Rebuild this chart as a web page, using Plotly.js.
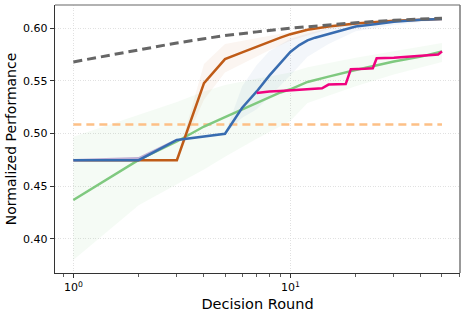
<!DOCTYPE html>
<html><head><meta charset="utf-8">
<script src="https://cdn.plot.ly/plotly-3.0.1.min.js"></script>
<style>html,body{margin:0;padding:0;background:#fff}#chart{width:466px;height:314px}</style>
</head><body><div id="chart"></div>
<script>
// Oracle (gray dashed)
const oracleX = [1, 2, 3, 4, 5, 7, 10, 15, 20, 30, 50];
const oracleY = [0.568, 0.5795, 0.586, 0.590, 0.593, 0.5965, 0.600, 0.603, 0.6052, 0.6075, 0.6095];
// Constant baseline (peach dashed)
const baseX = [1, 50];
const baseY = [0.5085, 0.5085];
// Green series
const greenX = [1, 2, 3, 4, 5, 6, 7, 8, 9, 10, 12, 15, 20, 30, 40, 50];
const greenY = [0.437, 0.475, 0.4925, 0.5067, 0.5156, 0.523, 0.529, 0.535, 0.539, 0.542, 0.549, 0.554, 0.5604, 0.5683, 0.573, 0.5778];
const greenBandX = [1, 2, 3, 4, 5, 7, 10, 12, 20, 30, 50];
const greenUpper = [0.497, 0.518, 0.530, 0.540, 0.546, 0.552, 0.558, 0.563, 0.572, 0.578, 0.586];
const greenLower = [0.380, 0.432, 0.452, 0.466, 0.478, 0.495, 0.512, 0.529, 0.545, 0.556, 0.568];
// Orange series
const orangeX = [1, 2, 3, 4, 5, 6, 7, 8, 9, 10, 12, 15, 20, 30, 40, 50];
const orangeY = [0.4748, 0.4748, 0.4748, 0.5478, 0.5706, 0.577, 0.5826, 0.5873, 0.591, 0.5943, 0.5985, 0.6015, 0.6045, 0.607, 0.608, 0.6088];
const orangeBandX = [3, 4, 5, 6, 8, 10, 15, 20, 30, 50];
const orangeUpper = [0.4748, 0.566, 0.585, 0.588, 0.593, 0.597, 0.603, 0.606, 0.608, 0.609];
const orangeLower = [0.4748, 0.532, 0.558, 0.566, 0.579, 0.588, 0.599, 0.603, 0.606, 0.608];
// Purple series (mostly hidden under blue)
const purpleX = [1, 2, 3];
const purpleY = [0.4748, 0.4765, 0.494];
// Blue series
const blueX = [1, 2, 3, 4, 5, 6, 7, 8, 9, 10, 11, 12, 13, 15, 17, 20, 25, 30, 40, 50];
const blueY = [0.4748, 0.4748, 0.494, 0.4975, 0.4998, 0.5245, 0.540, 0.555, 0.567, 0.5775, 0.584, 0.5885, 0.591, 0.5945, 0.598, 0.6015, 0.604, 0.606, 0.608, 0.6088];
const blueBandX = [5, 6, 7, 8, 10, 12, 15, 20, 30, 50];
const blueUpper = [0.4998, 0.545, 0.565, 0.578, 0.590, 0.595, 0.600, 0.605, 0.607, 0.609];
const blueLower = [0.4998, 0.515, 0.523, 0.535, 0.555, 0.573, 0.585, 0.597, 0.603, 0.608];
// Magenta series
const magentaX = [7, 8, 9, 10, 11, 12, 13, 14, 15, 16, 17, 18, 19, 20, 22, 24, 25, 30, 35, 40, 45, 46, 47, 48, 49, 50];
const magentaY = [0.5385, 0.540, 0.5405, 0.541, 0.5415, 0.542, 0.542, 0.543, 0.5465, 0.5465, 0.547, 0.547, 0.561, 0.561, 0.5615, 0.562, 0.5715, 0.572, 0.573, 0.574, 0.5748, 0.575, 0.5755, 0.575, 0.5765, 0.578];

function band(xs, up, lo, color) {
  return {x: xs.concat(xs.slice().reverse()), y: up.concat(lo.slice().reverse()),
    type: 'scatter', mode: 'lines', fill: 'toself', fillcolor: color,
    line: {width: 0}, hoverinfo: 'skip', showlegend: false};
}
function line(xs, ys, color, width, dash) {
  return {x: xs, y: ys, type: 'scatter', mode: 'lines',
    line: {color: color, width: width, dash: dash || 'solid'}, showlegend: false};
}

const traces = [
  band(greenBandX, greenUpper, greenLower, 'rgba(127,201,127,0.08)'),
  band(orangeBandX, orangeUpper, orangeLower, 'rgba(191,91,23,0.06)'),
  band(blueBandX, blueUpper, blueLower, 'rgba(56,108,176,0.06)'),
  line(baseX, baseY, '#fdc086', 2.5, '8px,5px'),
  line(greenX, greenY, '#7fc97f', 2.5),
  line(orangeX, orangeY, '#bf5b17', 2.5),
  line(purpleX, purpleY, '#beaed4', 2.5),
  line(blueX, blueY, '#386cb0', 2.5),
  line(magentaX, magentaY, '#f0027f', 2.5),
  line(oracleX, oracleY, '#666666', 3, '9px,5px')
];

const layout = {
  width: 466, height: 314,
  margin: {l: 55, r: 6, t: 5, b: 41},
  paper_bgcolor: '#fff', plot_bgcolor: '#fff',
  font: {family: 'DejaVu Sans', size: 11, color: '#000'},
  showlegend: false,
  xaxis: {
    type: 'log', range: [-0.0846, 1.782],
    tickmode: 'array', tickvals: [1, 10], ticktext: ['10<sup>0</sup>', '10<sup>1</sup>'],
    ticks: 'outside', ticklen: 4, tickwidth: 1, tickcolor: '#333',
    showgrid: true, gridcolor: '#d9d9d9', griddash: '1px,1.5px', gridwidth: 0.8,
    minor: {tickmode: 'array', tickvals: [0.9, 2, 3, 4, 5, 6, 7, 8, 9, 20, 30, 40, 50, 60],
            ticks: 'outside', ticklen: 2.5, tickwidth: 0.8, tickcolor: '#333', showgrid: false},
    showline: true, linecolor: '#333', linewidth: 1.2, mirror: false, zeroline: false,
    tickfont: {size: 11},
    title: {text: 'Decision Round', font: {size: 14.5}, standoff: 5}
  },
  yaxis: {
    range: [0.3677, 0.622],
    tickmode: 'array', tickvals: [0.40, 0.45, 0.50, 0.55, 0.60],
    ticktext: ['0.40', '0.45', '0.50', '0.55', '0.60'],
    ticks: 'outside', ticklen: 4, tickwidth: 1, tickcolor: '#333',
    showgrid: true, gridcolor: '#d9d9d9', griddash: '1px,1.5px', gridwidth: 0.8,
    showline: true, linecolor: '#333', linewidth: 1.2, mirror: false, zeroline: false,
    tickfont: {size: 11},
    title: {text: 'Normalized Performance', font: {size: 14}, standoff: 3}
  },
  shapes: [
    {type: 'line', xref: 'paper', yref: 'paper', x0: 0, x1: 1, y0: 1, y1: 1, line: {color: '#999', width: 1.5}},
    {type: 'line', xref: 'paper', yref: 'paper', x0: 1, x1: 1, y0: 0, y1: 1, line: {color: '#777', width: 1.5}}
  ]
};

Plotly.newPlot('chart', traces, layout, {displayModeBar: false, staticPlot: true});
</script></body></html>
